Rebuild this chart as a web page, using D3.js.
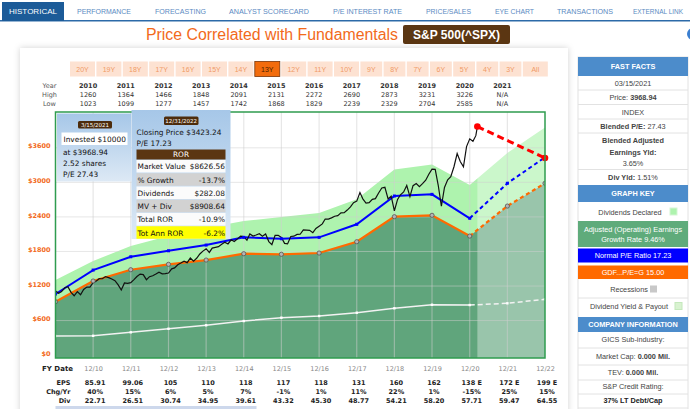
<!DOCTYPE html>
<html>
<head>
<meta charset="utf-8">
<script src="https://cdn.jsdelivr.net/npm/d3@7"></script>
<style>
body{margin:0;background:#fff;overflow:hidden}
</style>
</head>
<body>
<div id="chart"></div>
<script>
// ---- data ----
const tabs = ['HISTORICAL','PERFORMANCE','FORECASTING','ANALYST SCORECARD','P/E INTEREST RATE','PRICE/SALES','EYE CHART','TRANSACTIONS','EXTERNAL LINK']
const rangeButtons = ['20Y','19Y','18Y','17Y','16Y','15Y','14Y','13Y','12Y','11Y','10Y','9Y','8Y','7Y','6Y','5Y','4Y','3Y','All']
const activeRange = '13Y'

const tableYears = [2010,2011,2012,2013,2014,2015,2016,2017,2018,2019,2020,2021]
const tableHigh = ['1260','1364','1466','1848','2091','2131','2272','2690','2873','3231','3226','N/A']
const tableLow = ['1023','1099','1277','1457','1742','1868','1829','2239','2329','2704','2585','N/A']

// fiscal year ends 12/09 .. 12/22
const fyYears = [2009,2010,2011,2012,2013,2014,2015,2016,2017,2018,2019,2020,2021,2022]
const earningsLine = [927,1287,1483,1577,1651,1761,1751,1773,1969,2404,2428,2068,2589,2984]   // orange, P/E 15
const normalPELine = [1061,1477,1708,1812,1911,2045,2021,2045,2272,2763,2792,2376,2984,3435] // blue
const dividendBand = [1304,1634,1895,2067,2207,2329,2398,2468,2706,3223,3310,2954,3510,3955] // light green top
const dividendLine = [332,336,396,458,518,592,650,679,736,813,875,870,900,969]                 // white
const firstForecast = 11   // index of 12/20 : dashed from here on

const fyLabels = ['12/10','12/11','12/12','12/13','12/14','12/15','12/16','12/17','12/18','12/19','12/20','12/21','12/22']
const epsText = ['85.91','99.06','105','110','118','117','118','131','160','162','138 E','172 E','199 E']
const chgText = ['40%','15%','6%','5%','7%','-1%','1%','11%','22%','1%','-15%','25%','15%']
const divText = ['22.71','26.51','30.74','34.95','39.61','43.32','45.30','48.77','54.21','58.20','57.71','59.47','64.55']

// month-end closes from 12/2009, last point 3/15/2021
const priceVals = [1115,
  1074,1104,1169,1187,1089,1031,1102,1049,1141,1183,1181,1258,
  1286,1327,1326,1364,1345,1321,1292,1219,1131,1253,1247,1258,
  1312,1366,1408,1398,1310,1362,1379,1407,1441,1412,1416,1426,
  1498,1515,1569,1598,1631,1606,1686,1633,1682,1757,1806,1848,
  1783,1859,1872,1884,1924,1960,1931,2003,1972,2018,2068,2059,
  1995,2105,2068,2086,2107,2063,2104,1972,1920,2079,2080,2044,
  1940,1932,2060,2065,2097,2099,2174,2171,2168,2126,2199,2239,
  2279,2364,2363,2384,2412,2423,2470,2472,2519,2575,2648,2674,
  2824,2714,2641,2648,2705,2718,2816,2902,2914,2712,2760,2507,
  2704,2784,2834,2946,2752,2942,2980,2926,2977,3038,3141,3231,
  3226,2954,2585,2912,3044,3100,3271,3500,3363,3270,3622,3756,
  3714,3811,3969]
const lastPriceDate = new Date(2021, 2, 15)
const projectionVals = [3968.94, 3423.24]   // red dashed: today -> 12/31/2022

const yTicks = [0,600,1200,1800,2400,3000,3600]

// ---- layout ----
const W = 690, H = 409
const plot = {left: 55.5, right: 545, top: 112, bottom: 358}

const svg = d3.select('#chart').append('svg')
    .attr('width', W).attr('height', H)
    .style('font-family', 'Liberation Sans, Arial, sans-serif')

const defs = svg.append('defs')
const shadow = defs.append('filter').attr('id', 'shadow').attr('x', '-5%').attr('y', '-5%').attr('width', '110%').attr('height', '110%')
shadow.append('feDropShadow').attr('dx', 0).attr('dy', 0).attr('stdDeviation', 3).attr('flood-color', '#000').attr('flood-opacity', 0.18)
const tipGrad = defs.append('linearGradient').attr('id', 'tipGrad').attr('x1', 0).attr('y1', 0).attr('x2', 0).attr('y2', 1)
tipGrad.append('stop').attr('offset', '0%').attr('stop-color', '#a6c7e8')
tipGrad.append('stop').attr('offset', '100%').attr('stop-color', '#dde9f5')
defs.append('clipPath').attr('id', 'plotClip').append('rect')
    .attr('x', plot.left).attr('y', plot.top).attr('width', plot.right - plot.left).attr('height', plot.bottom - plot.top)

// ---- nav tabs ----
const tabX = [[2,64],[70,138],[148,213],[222,316],[326,409],[419,478],[488,541],[550,620],[630,700]]
svg.append('rect').attr('x', 0).attr('y', 20).attr('width', W).attr('height', 1.5).attr('fill', '#2c6aa8')
tabs.forEach((t, i)=>{
    let [a, b] = tabX[i]
    let last = i === tabs.length - 1
    if (i === 0) {
        svg.append('rect').attr('x', a).attr('y', 2).attr('width', b - a).attr('height', 19).attr('fill', '#1c5b98')
    }
    svg.append('text')
        .attr('x', last ? a + 3 : (a + b) / 2).attr('y', 13.5)
        .attr('text-anchor', last ? 'start' : 'middle')
        .attr('font-size', last ? '7px' : '7.6px')
        .attr('fill', i === 0 ? '#fff' : '#5a8ac2')
        .attr('textLength', last ? 50 : (b - a) - 14)
        .attr('lengthAdjust', 'spacingAndGlyphs')
        .text(t)
})

// title
svg.append('text').attr('x', 398).attr('y', 40)
    .attr('text-anchor', 'end').attr('font-size', '16px').attr('fill', '#f26a1b')
    .attr('textLength', 252).attr('lengthAdjust', 'spacingAndGlyphs')
    .text('Price Correlated with Fundamentals')
svg.append('rect').attr('x', 403).attr('y', 25).attr('width', 107).attr('height', 19).attr('rx', 2).attr('fill', '#5b3612')
svg.append('text').attr('x', 456.5).attr('y', 39).attr('text-anchor', 'middle')
    .attr('font-size', '12px').attr('font-weight', 'bold').attr('fill', '#fff').text('S&P 500(^SPX)')
svg.append('circle').attr('cx', 693).attr('cy', 34).attr('r', 6).attr('fill', '#3b7fd0')

// card
svg.append('rect').attr('x', 20).attr('y', 48).attr('width', 548).attr('height', 380)
    .attr('fill', '#fff').attr('filter', 'url(#shadow)')

// range buttons
let bx = 70
rangeButtons.forEach(lbl=>{
    let w = lbl.length === 3 ? 25 : 21.8
    let active = lbl === activeRange
    svg.append('rect').attr('x', bx).attr('y', 61.5).attr('width', w).attr('height', 15)
        .attr('fill', active ? '#f26c0d' : '#fde2d2')
        .attr('stroke', active ? '#7a3508' : 'none').attr('stroke-width', 0.8)
    svg.append('text').attr('x', bx + w / 2).attr('y', 71.5).attr('text-anchor', 'middle')
        .attr('font-size', '7px').attr('fill', active ? '#4a2000' : '#f09a66').text(lbl)
    bx += w + 1.4
})

// ---- scales ----
const yearEnd = yr=>new Date(yr, 11, 31)
const x = d3.scaleTime().domain([yearEnd(2009), yearEnd(2022)]).range([plot.left, plot.right])
const y = d3.scaleLinear().domain([-50, 4222]).range([plot.bottom, plot.top])

// year / high / low table
const tbl = svg.append('g').attr('font-family', 'DejaVu Sans, sans-serif').attr('font-size', '6.5px').attr('fill', '#333')
;[['Year', 87.5], ['High', 96.5], ['Low', 105.5]].forEach(([t, yy])=>{
    tbl.append('text').attr('x', 49.5).attr('y', yy).attr('text-anchor', 'middle').attr('fill', '#555').text(t)
})
tableYears.forEach((yr, i)=>{
    let cx = x(yearEnd(yr)) - 5
    tbl.append('text').attr('x', cx).attr('y', 87.5).attr('text-anchor', 'middle').attr('font-weight', 'bold').text(yr)
    tbl.append('text').attr('x', cx).attr('y', 96.5).attr('text-anchor', 'middle').text(tableHigh[i])
    tbl.append('text').attr('x', cx).attr('y', 105.5).attr('text-anchor', 'middle').text(tableLow[i])
})

// ---- plot ----
const fyData = fyYears.map((yr, i)=>({
    date: yearEnd(yr), eps: earningsLine[i], pe: normalPELine[i], band: dividendBand[i], div: dividendLine[i]
}))
const priceData = priceVals.map((v, i)=>({
    date: i === priceVals.length - 1 ? lastPriceDate : new Date(2009, 12 + i, 0), v: v
}))

const pg = svg.append('g').attr('clip-path', 'url(#plotClip)')
pg.append('rect').attr('x', plot.left).attr('y', plot.top).attr('width', plot.right - plot.left)
    .attr('height', plot.bottom - plot.top).attr('fill', '#fff')

pg.append('path').datum(fyData)
    .attr('d', d3.area().x(d=>x(d.date)).y0(d=>y(d.eps)).y1(d=>y(d.band)))
    .attr('fill', '#aef3ae')
pg.append('path').datum(fyData)
    .attr('d', d3.area().x(d=>x(d.date)).y0(plot.bottom).y1(d=>y(d.eps)))
    .attr('fill', '#60a57c')

// forecast shading
pg.append('rect').attr('x', x(lastPriceDate)).attr('y', plot.top)
    .attr('width', plot.right - x(lastPriceDate)).attr('height', plot.bottom - plot.top)
    .attr('fill', '#fff').attr('opacity', 0.36)

// grid
pg.append('g').selectAll('line').data(fyYears.slice(1, -1)).enter().append('line')
    .attr('x1', d=>x(yearEnd(d))).attr('x2', d=>x(yearEnd(d)))
    .attr('y1', plot.top).attr('y2', plot.bottom)
    .attr('stroke', '#d0d0d0').attr('stroke-opacity', 0.5).attr('stroke-width', 1.2)
pg.append('g').selectAll('line').data(yTicks.slice(1)).enter().append('line')
    .attr('x1', plot.left).attr('x2', plot.right)
    .attr('y1', d=>y(d)).attr('y2', d=>y(d))
    .attr('stroke', '#d0d0d0').attr('stroke-opacity', 0.5).attr('stroke-width', 1)

// solid history + dashed forecast for the fundamental lines
function drawSplit(key, color, width, dash){
    let line = d3.line().x(d=>x(d.date)).y(d=>y(d[key]))
    pg.append('path').datum(fyData.slice(0, firstForecast + 1)).attr('d', line)
        .attr('fill', 'none').attr('stroke', color).attr('stroke-width', width)
    pg.append('path').datum(fyData.slice(firstForecast)).attr('d', line)
        .attr('fill', 'none').attr('stroke', color).attr('stroke-width', width).attr('stroke-dasharray', dash)
}
drawSplit('div', '#f2f2f2', 1.5, '5,3')
drawSplit('eps', '#ff6a00', 2.2, '4,3')
drawSplit('pe', '#0000ff', 2, '4,3')

// price
pg.append('path').datum(priceData)
    .attr('d', d3.line().x(d=>x(d.date)).y(d=>y(d.v)))
    .attr('fill', 'none').attr('stroke', '#111').attr('stroke-width', 1.2)

// markers
pg.append('g').selectAll('rect').data(fyData).enter().append('rect')
    .attr('x', d=>x(d.date) - 1.2).attr('y', d=>y(d.div) - 1.2).attr('width', 2.4).attr('height', 2.4).attr('fill', '#fff')
pg.append('g').selectAll('rect').data(fyData).enter().append('rect')
    .attr('x', d=>x(d.date) - 1.5).attr('y', d=>y(d.pe) - 1.5).attr('width', 3).attr('height', 3).attr('fill', '#0000ff')
pg.append('g').selectAll('circle').data(fyData).enter().append('circle')
    .attr('cx', d=>x(d.date)).attr('cy', d=>y(d.eps)).attr('r', 2.1)
    .attr('fill', '#b5b5b5').attr('stroke', '#555').attr('stroke-width', 0.8)

// projection
const projData = [{date: lastPriceDate, v: projectionVals[0]}, {date: yearEnd(2022), v: projectionVals[1]}]
svg.append('path').datum(projData)
    .attr('d', d3.line().x(d=>x(d.date)).y(d=>y(d.v)))
    .attr('stroke', '#ff0000').attr('stroke-width', 3).attr('stroke-dasharray', '7,4').attr('fill', 'none')
svg.append('g').selectAll('circle').data(projData).enter().append('circle')
    .attr('cx', d=>x(d.date)).attr('cy', d=>y(d.v)).attr('r', 3.3).attr('fill', '#ff0000')

// border
svg.append('rect').attr('x', plot.left).attr('y', plot.top).attr('width', plot.right - plot.left)
    .attr('height', plot.bottom - plot.top).attr('fill', 'none').attr('stroke', '#2f9c4f').attr('stroke-width', 1.5)

// y axis
let yAxis = svg.append('g').attr('transform', `translate(${plot.left - 2}, -2)`)
    .call(d3.axisLeft(y).tickValues(yTicks).tickFormat(d=>'$' + d).tickSize(0))
yAxis.select('.domain').remove()
yAxis.selectAll('text').attr('fill', '#f26a1b').attr('font-size', '6.5px').attr('font-weight', 'bold')
    .attr('font-family', 'DejaVu Sans, sans-serif')

// x axis
let xAxis = svg.append('g').attr('transform', `translate(0, 363)`)
    .call(d3.axisBottom(x).tickValues(fyYears.slice(1).map(yearEnd)).tickFormat((d, i)=>fyLabels[i]).tickSize(0))
xAxis.select('.domain').remove()
xAxis.selectAll('text').attr('fill', '#888').attr('font-size', '6.5px').attr('font-family', 'DejaVu Sans, sans-serif')

// fy table
const ft = svg.append('g').attr('font-family', 'DejaVu Sans, sans-serif').attr('font-size', '6.5px').attr('font-weight', 'bold').attr('fill', '#222')
ft.append('text').attr('x', 73).attr('y', 370.5).attr('text-anchor', 'end').attr('font-size', '7px').text('FY Date')
;[['EPS', 385, epsText], ['Chg/Yr', 394, chgText], ['Div', 402.5, divText]].forEach(([lbl, yy, vals])=>{
    ft.append('text').attr('x', 70.5).attr('y', yy).attr('text-anchor', 'end').text(lbl)
    vals.forEach((v, i)=>{
        ft.append('text').attr('x', x(yearEnd(fyYears[i + 1])) + 2).attr('y', yy).attr('text-anchor', 'middle').text(v)
    })
})
// top of the next panel
svg.append('rect').attr('x', plot.left).attr('y', 406).attr('width', 201).attr('height', 4).attr('fill', '#cdd8ec')

// ---- tooltips ----
const tip = svg.append('g').attr('font-family', 'DejaVu Sans, sans-serif').attr('font-size', '7.4px').attr('fill', '#111')
tip.append('rect').attr('x', 57).attr('y', 113.5).attr('width', 74).attr('height', 68).attr('fill', 'url(#tipGrad)')
tip.append('rect').attr('x', 78).attr('y', 121).attr('width', 34).attr('height', 7.5).attr('rx', 1.5).attr('fill', '#4d2c0c')
tip.append('text').attr('x', 95).attr('y', 127).attr('text-anchor', 'middle').attr('font-size', '5.5px').attr('fill', '#fff').text('3/15/2021')
tip.append('rect').attr('x', 61.5).attr('y', 132.5).attr('width', 66).attr('height', 12.5).attr('fill', '#fff')
tip.append('text').attr('x', 63.5).attr('y', 141.5).text('Invested $10000')
tip.append('text').attr('x', 63).attr('y', 154.5).text('at $3968.94')
tip.append('text').attr('x', 63).attr('y', 166).text('2.52 shares')
tip.append('text').attr('x', 63).attr('y', 177).text('P/E 27.43')

tip.append('rect').attr('x', 131.5).attr('y', 110).attr('width', 99).attr('height', 129).attr('fill', 'url(#tipGrad)')
tip.append('rect').attr('x', 164).attr('y', 116.5).attr('width', 34.5).attr('height', 8.5).attr('rx', 1.5).attr('fill', '#4d2c0c')
tip.append('text').attr('x', 181.2).attr('y', 123).attr('text-anchor', 'middle').attr('font-size', '5.5px').attr('fill', '#fff').text('12/31/2022')
tip.append('text').attr('x', 136.5).attr('y', 134.5).text('Closing Price $3423.24')
tip.append('text').attr('x', 136.5).attr('y', 145.5).text('P/E 17.23')
tip.append('rect').attr('x', 136.5).attr('y', 149.5).attr('width', 89).attr('height', 10).attr('fill', '#5b3612')
tip.append('text').attr('x', 181).attr('y', 157.3).attr('text-anchor', 'middle').attr('fill', '#fff').text('ROR')
const rorRows = [['Market Value', '$8626.56', '#fbfbfb'], ['% Growth', '-13.7%', '#d2d2d2'], ['Dividends', '$282.08', '#fbfbfb'],
    ['MV + Div', '$8908.64', '#d2d2d2'], ['Total ROR', '-10.9%', '#fbfbfb'], ['Tot Ann ROR', '-6.2%', '#ffff00']]
rorRows.forEach(([a, b, c], i)=>{
    let ry = 160 + i * 13.25
    tip.append('rect').attr('x', 136.5).attr('y', ry).attr('width', 89).attr('height', 12.5).attr('fill', c)
    tip.append('text').attr('x', 137.5).attr('y', ry + 9.3).text(a)
    tip.append('text').attr('x', 225).attr('y', ry + 9.3).attr('text-anchor', 'end').text(b)
})

// ---- right panel ----
const rp = svg.append('g').attr('font-size', '7.3px').attr('fill', '#444')
const px0 = 578, pw = 110, pcx = px0 + pw / 2
rp.append('rect').attr('x', px0).attr('y', 57).attr('width', pw).attr('height', 360).attr('fill', '#fff').attr('stroke', '#e2e2e2')
function header(t, y0, y1){
    rp.append('rect').attr('x', px0).attr('y', y0).attr('width', pw).attr('height', y1 - y0).attr('fill', '#4c8ccb')
    rp.append('text').attr('x', pcx).attr('y', (y0 + y1) / 2 + 2.6).attr('text-anchor', 'middle')
        .attr('fill', '#fff').attr('font-weight', 'bold').text(t)
}
function sep(yy){
    rp.append('line').attr('x1', px0).attr('x2', px0 + pw).attr('y1', yy).attr('y2', yy).attr('stroke', '#e2e2e2')
}
function row(parts, yy, fill){
    let t = rp.append('text').attr('x', pcx).attr('y', yy + 2.6).attr('text-anchor', 'middle').attr('fill', fill || '#444')
    parts.forEach(([s, b])=>t.append('tspan').attr('font-weight', b ? 'bold' : null).text(s))
    return t
}
header('FAST FACTS', 57, 76)
row([['03/15/2021']], 83.5); sep(90)
row([['Price: '], ['3968.94', 1]], 97.5); sep(104.5)
row([['INDEX']], 112); sep(119)
row([['Blended P/E: ', 1], ['27.43']], 126); sep(133)
row([['Blended Adjusted', 1]], 140.5)
row([['Earnings Yld:', 1]], 152.5)
row([['3.65%']], 163.5); sep(169.5)
row([['Div Yld: ', 1], ['1.51%']], 177)
header('GRAPH KEY', 185, 202)
row([['Dividends Declared ']], 212.5).attr('dx', -3)
rp.append('rect').attr('x', 670).attr('y', 208).attr('width', 7).attr('height', 7).attr('fill', '#aef3ae').attr('stroke', '#d5f5d5')
rp.append('rect').attr('x', px0).attr('y', 221).attr('width', pw).attr('height', 26).attr('fill', '#5fab7b')
row([['Adjusted (Operating) Earnings']], 229.5, '#fff')
row([['Growth Rate 9.46%']], 239, '#fff')
rp.append('rect').attr('x', px0).attr('y', 248.5).attr('width', pw).attr('height', 14).attr('fill', '#0000ff')
row([['Normal P/E Ratio 17.23']], 255.5, '#fff')
rp.append('rect').attr('x', px0).attr('y', 265.5).attr('width', pw).attr('height', 13.5).attr('fill', '#ff6a00')
row([['GDF...P/E=G 15.00']], 272.2, '#fff')
row([['Recessions ']], 289.5).attr('dx', -4)
rp.append('rect').attr('x', 650).attr('y', 285.5).attr('width', 7).attr('height', 7).attr('fill', '#c8c8c8')
sep(298)
row([['Dividend Yield & Payout ']], 306.5).attr('dx', -4)
rp.append('rect').attr('x', 675).attr('y', 302.5).attr('width', 7).attr('height', 7).attr('fill', '#d8f2d0').attr('stroke', '#c4e8bc')
header('COMPANY INFORMATION', 317, 332)
row([['GICS Sub-industry:']], 339.5); sep(348)
row([['Market Cap: '], ['0.000 Mil.', 1]], 356.5); sep(365)
row([['TEV: '], ['0.000 Mil.', 1]], 372.5); sep(380)
row([['S&P Credit Rating:']], 386.5); sep(394)
row([['37% LT Debt/Cap', 1]], 400.5, '#222'); sep(408)
</script>
</body>
</html>
